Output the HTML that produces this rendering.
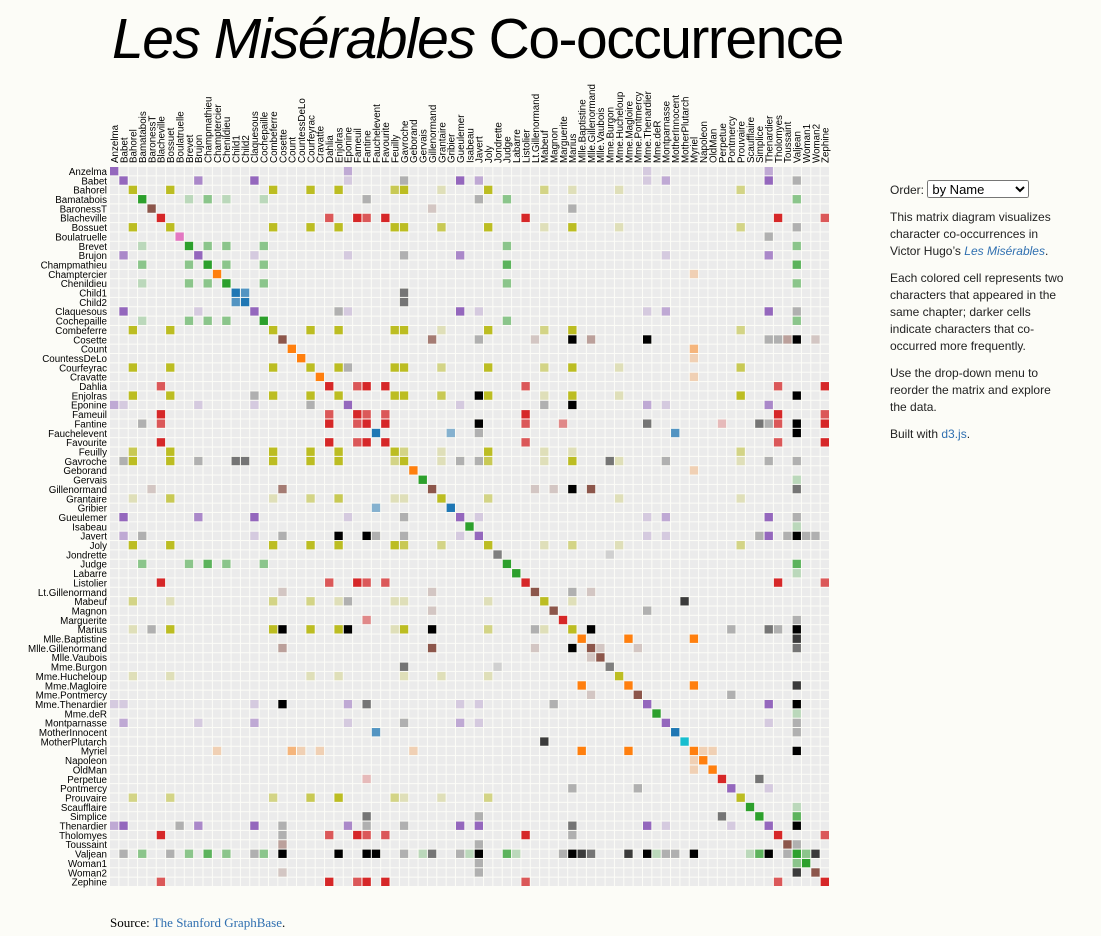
<!DOCTYPE html>
<html><head><meta charset="utf-8"><style>
body{margin:0;background:#fcfcf7;width:1101px;height:936px;overflow:hidden;position:relative;font-family:"Liberation Sans",sans-serif}
h1{position:absolute;left:112px;top:6px;margin:0;font-weight:normal;font-size:57px;letter-spacing:-1.5px;color:#000;transform:scaleX(1.0);}
#side{position:absolute;left:890px;top:180px;width:178px;font-size:12px;line-height:17px;color:#222}
#side p{margin:0 0 10px}
a{color:#2f6fb0;text-decoration:none}
select{font-size:13px;width:102px;height:18px}
#src{position:absolute;left:110px;top:915px;font-family:"Liberation Serif",serif;font-size:13px}
svg text{font-family:"Liberation Sans",sans-serif;font-size:9.8px;fill:#000}
</style></head><body>
<h1><i>Les Misérables</i> Co-occurrence</h1>
<div id="side">
<p>Order: <select><option>by Name</option></select></p>
<p>This matrix diagram visualizes character co-occurrences in Victor Hugo’s <a><i>Les Misérables</i></a>.</p>
<p>Each colored cell represents two characters that appeared in the same chapter; darker cells indicate characters that co-occurred more frequently.</p>
<p>Use the drop-down menu to reorder the matrix and explore the data.</p>
<p>Built with <a>d3.js</a>.</p>
</div>
<div id="src">Source: <a>The Stanford GraphBase</a>.</div>
<svg id="m" width="1101" height="936" style="position:absolute;left:0;top:0">
<g id="cells"></g>
<g id="rl" text-anchor="end">
<text>Anzelma</text><text>Babet</text><text>Bahorel</text><text>Bamatabois</text><text>BaronessT</text><text>Blacheville</text><text>Bossuet</text><text>Boulatruelle</text><text>Brevet</text><text>Brujon</text><text>Champmathieu</text><text>Champtercier</text><text>Chenildieu</text><text>Child1</text><text>Child2</text><text>Claquesous</text><text>Cochepaille</text><text>Combeferre</text><text>Cosette</text><text>Count</text><text>CountessDeLo</text><text>Courfeyrac</text><text>Cravatte</text><text>Dahlia</text><text>Enjolras</text><text>Eponine</text><text>Fameuil</text><text>Fantine</text><text>Fauchelevent</text><text>Favourite</text><text>Feuilly</text><text>Gavroche</text><text>Geborand</text><text>Gervais</text><text>Gillenormand</text><text>Grantaire</text><text>Gribier</text><text>Gueulemer</text><text>Isabeau</text><text>Javert</text><text>Joly</text><text>Jondrette</text><text>Judge</text><text>Labarre</text><text>Listolier</text><text>Lt.Gillenormand</text><text>Mabeuf</text><text>Magnon</text><text>Marguerite</text><text>Marius</text><text>Mlle.Baptistine</text><text>Mlle.Gillenormand</text><text>Mlle.Vaubois</text><text>Mme.Burgon</text><text>Mme.Hucheloup</text><text>Mme.Magloire</text><text>Mme.Pontmercy</text><text>Mme.Thenardier</text><text>Mme.deR</text><text>Montparnasse</text><text>MotherInnocent</text><text>MotherPlutarch</text><text>Myriel</text><text>Napoleon</text><text>OldMan</text><text>Perpetue</text><text>Pontmercy</text><text>Prouvaire</text><text>Scaufflaire</text><text>Simplice</text><text>Thenardier</text><text>Tholomyes</text><text>Toussaint</text><text>Valjean</text><text>Woman1</text><text>Woman2</text><text>Zephine</text>
</g>
<g id="cl">
<text>Anzelma</text><text>Babet</text><text>Bahorel</text><text>Bamatabois</text><text>BaronessT</text><text>Blacheville</text><text>Bossuet</text><text>Boulatruelle</text><text>Brevet</text><text>Brujon</text><text>Champmathieu</text><text>Champtercier</text><text>Chenildieu</text><text>Child1</text><text>Child2</text><text>Claquesous</text><text>Cochepaille</text><text>Combeferre</text><text>Cosette</text><text>Count</text><text>CountessDeLo</text><text>Courfeyrac</text><text>Cravatte</text><text>Dahlia</text><text>Enjolras</text><text>Eponine</text><text>Fameuil</text><text>Fantine</text><text>Fauchelevent</text><text>Favourite</text><text>Feuilly</text><text>Gavroche</text><text>Geborand</text><text>Gervais</text><text>Gillenormand</text><text>Grantaire</text><text>Gribier</text><text>Gueulemer</text><text>Isabeau</text><text>Javert</text><text>Joly</text><text>Jondrette</text><text>Judge</text><text>Labarre</text><text>Listolier</text><text>Lt.Gillenormand</text><text>Mabeuf</text><text>Magnon</text><text>Marguerite</text><text>Marius</text><text>Mlle.Baptistine</text><text>Mlle.Gillenormand</text><text>Mlle.Vaubois</text><text>Mme.Burgon</text><text>Mme.Hucheloup</text><text>Mme.Magloire</text><text>Mme.Pontmercy</text><text>Mme.Thenardier</text><text>Mme.deR</text><text>Montparnasse</text><text>MotherInnocent</text><text>MotherPlutarch</text><text>Myriel</text><text>Napoleon</text><text>OldMan</text><text>Perpetue</text><text>Pontmercy</text><text>Prouvaire</text><text>Scaufflaire</text><text>Simplice</text><text>Thenardier</text><text>Tholomyes</text><text>Toussaint</text><text>Valjean</text><text>Woman1</text><text>Woman2</text><text>Zephine</text>
</g>
</svg>
<script>
var N=["Myriel","Napoleon","Mlle.Baptistine","Mme.Magloire","CountessDeLo","Geborand","Champtercier","Cravatte","Count","OldMan","Labarre","Valjean","Marguerite","Mme.deR","Isabeau","Gervais","Tholomyes","Listolier","Fameuil","Blacheville","Favourite","Dahlia","Zephine","Fantine","Mme.Thenardier","Thenardier","Cosette","Javert","Fauchelevent","Bamatabois","Perpetue","Simplice","Scaufflaire","Woman1","Judge","Champmathieu","Brevet","Chenildieu","Cochepaille","Pontmercy","Boulatruelle","Eponine","Anzelma","Woman2","MotherInnocent","Gribier","Jondrette","Mme.Burgon","Gavroche","Gillenormand","Magnon","Mlle.Gillenormand","Mme.Pontmercy","Mlle.Vaubois","Lt.Gillenormand","Marius","BaronessT","Mabeuf","Enjolras","Combeferre","Prouvaire","Feuilly","Courfeyrac","Bahorel","Bossuet","Joly","Grantaire","MotherPlutarch","Gueulemer","Babet","Claquesous","Montparnasse","Toussaint","Child1","Child2","Brujon","Mme.Hucheloup"];
var G=[1,1,1,1,1,1,1,1,1,1,2,2,3,2,2,2,3,3,3,3,3,3,3,3,4,4,5,4,0,2,3,2,2,2,2,2,2,2,2,4,6,4,4,5,0,0,7,7,8,5,5,5,5,5,5,8,5,8,8,8,8,8,8,8,8,8,8,9,4,4,4,4,5,10,10,4,8];
var L="1-0-1,2-0-8,3-0-10,3-2-6,4-0-1,5-0-1,6-0-1,7-0-1,8-0-2,9-0-1,11-10-1,11-3-3,11-2-3,11-0-5,12-11-1,13-11-1,14-11-1,15-11-1,17-16-4,18-16-4,18-17-4,19-16-4,19-17-4,19-18-4,20-16-3,20-17-3,20-18-3,20-19-4,21-16-3,21-17-3,21-18-3,21-19-3,21-20-5,22-16-3,22-17-3,22-18-3,22-19-3,22-20-4,22-21-4,23-16-3,23-17-3,23-18-3,23-19-3,23-20-4,23-21-4,23-22-4,23-12-2,23-11-9,24-23-2,24-11-7,25-24-13,25-23-1,25-11-12,26-24-4,26-11-31,26-16-1,26-25-1,27-11-17,27-23-5,27-25-5,27-24-1,27-26-1,28-11-8,28-27-1,29-23-1,29-27-1,29-11-2,30-23-1,31-30-2,31-11-3,31-23-2,31-27-1,32-11-1,33-11-2,33-27-1,34-11-3,34-29-2,35-11-3,35-34-3,35-29-2,36-34-2,36-35-2,36-11-2,36-29-1,37-34-2,37-35-2,37-36-2,37-11-2,37-29-1,38-34-2,38-35-2,38-36-2,38-37-2,38-11-2,38-29-1,39-25-1,40-25-1,41-24-2,41-25-3,42-41-2,42-25-2,42-24-1,43-11-3,43-26-1,43-27-1,44-28-3,44-11-1,45-28-2,47-46-1,48-47-2,48-25-1,48-27-1,48-11-1,49-26-3,49-11-2,50-49-1,50-24-1,51-49-9,51-26-2,51-11-2,52-51-1,52-39-1,53-51-1,54-51-1,54-49-1,54-26-1,55-51-6,55-49-12,55-39-1,55-54-1,55-26-21,55-11-19,55-16-1,55-25-2,55-41-5,55-48-4,56-49-1,56-55-1,57-55-1,57-41-1,57-48-1,58-55-7,58-48-7,58-27-6,58-57-1,58-11-4,59-58-15,59-55-5,59-48-6,59-57-2,60-48-1,60-58-4,60-59-2,61-48-2,61-58-6,61-60-2,61-59-5,61-57-1,61-55-1,62-55-9,62-58-17,62-59-13,62-48-7,62-57-2,62-41-1,62-61-6,62-60-3,63-59-5,63-48-5,63-62-6,63-57-2,63-58-4,63-61-3,63-60-2,63-55-1,64-55-5,64-62-12,64-48-5,64-63-4,64-58-10,64-61-6,64-60-2,64-59-9,64-57-1,64-11-1,65-63-5,65-64-7,65-48-3,65-62-5,65-58-5,65-61-5,65-60-2,65-59-5,65-57-1,65-55-2,66-64-3,66-58-3,66-59-1,66-62-2,66-65-2,66-48-1,66-63-1,66-61-1,66-60-1,67-57-3,68-25-5,68-11-1,68-24-1,68-27-1,68-48-1,68-41-1,69-25-6,69-68-6,69-11-1,69-24-1,69-27-2,69-48-1,69-41-1,70-25-4,70-69-4,70-68-4,70-11-1,70-24-1,70-27-1,70-41-1,70-58-1,71-27-1,71-69-2,71-68-2,71-70-2,71-11-1,71-48-1,71-41-1,71-25-1,72-26-2,72-27-1,72-11-1,73-48-2,74-48-2,74-73-3,75-69-3,75-68-3,75-25-3,75-48-1,75-41-1,75-70-1,75-71-1,76-64-1,76-65-1,76-66-1,76-63-1,76-62-1,76-48-1,76-58-1";
var C=["#1f77b4","#ff7f0e","#2ca02c","#d62728","#9467bd","#8c564b","#e377c2","#7f7f7f","#bcbd22","#17becf"];
var rows=[].map.call(document.querySelectorAll('#rl text'),function(t){return t.textContent;});
var pos={};rows.forEach(function(n,i){pos[n]=i;});
var n=77,x0=110,y0=167,s=720/77,g=document.getElementById('cells'),h='';
for(var i=0;i<n;i++)for(var j=0;j<n;j++)h+='<rect x="'+(x0+j*s).toFixed(2)+'" y="'+(y0+i*s).toFixed(2)+'" width="'+(s-1).toFixed(2)+'" height="'+(s-1).toFixed(2)+'" fill="#ebebeb"/>';
function cell(a,b,col,op){h+='<rect x="'+(x0+b*s).toFixed(2)+'" y="'+(y0+a*s).toFixed(2)+'" width="'+(s-1).toFixed(2)+'" height="'+(s-1).toFixed(2)+'" fill="'+col+'" fill-opacity="'+op+'"/>';}
for(var k=0;k<n;k++){var p=pos[N[k]];cell(p,p,C[G[k]%10],1);}
L.split(',').forEach(function(e){var q=e.split('-'),a=+q[0],b=+q[1],v=+q[2];var col=G[a]==G[b]?C[G[a]%10]:'#000';var op=Math.min(v/4,1);var pa=pos[N[a]],pb=pos[N[b]];cell(pa,pb,col,op);cell(pb,pa,col,op);});
g.innerHTML=h;
document.querySelectorAll('#rl text').forEach(function(t,i){t.setAttribute('x',107);t.setAttribute('y',(y0+i*s+s/2+3.3).toFixed(2));});
document.querySelectorAll('#cl text').forEach(function(t,i){var x=(x0+i*s+s/2+3.3).toFixed(2);t.setAttribute('transform','translate('+x+',163) rotate(-90)');});
</script>
</body></html>
